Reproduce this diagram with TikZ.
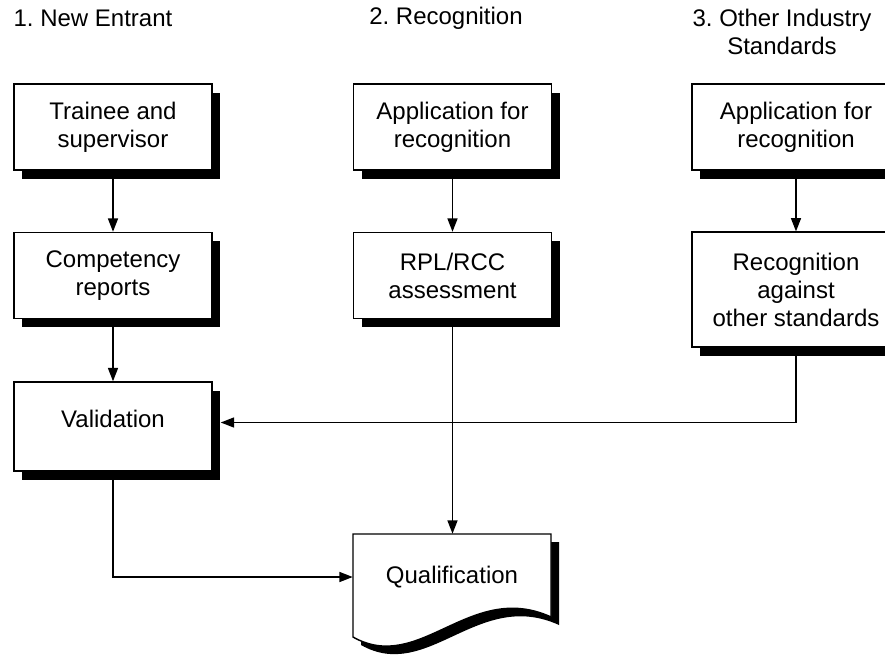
\documentclass[tikz,border=0pt]{standalone}
\usepackage{fontspec}
\setmainfont{Liberation Sans}
\frenchspacing
\usetikzlibrary{arrows.meta,shadows}
\tikzset{
  box/.style={draw, line width=1.1pt, fill=white, align=center, font=\fontsize{18}{21}\selectfont,
    minimum width=148.5pt, minimum height=64.5pt, inner sep=2pt,
    drop shadow={shadow xshift=6pt, shadow yshift=-6.5pt, fill=black, opacity=1}},
  title/.style={align=center, font=\fontsize{18}{21}\selectfont},
  flow/.style={line width=1.1pt, -{Triangle[length=10pt,width=7.5pt]}}
}
\begin{document}
\begin{tikzpicture}[x=0.75pt, y=-0.75pt]
	  \clip (0,0) rectangle (885,657);
	  \fill[white] (0,0) rectangle (885,657);
	  % column titles
	  \node[title] (t1) at (93,18) {1. New Entrant};
	  \node[title] (t2) at (446,18) {2. Recognition};
	  \node[title] (t3) at (782,32) {3. Other Industry\\Standards};
	  % boxes
	  \node[box] (trainee) at (113,127) {Trainee and\\supervisor};
	  \node[box] (comp) at (113,275.5) {Competency\\reports};
	  \node[box, minimum height=66.75pt, text depth=12pt] (val) at (113,426.5) {Validation};
	  \node[box] (app2) at (452.5,127) {Application for\\recognition};
	  \node[box] (rpl) at (452.5,275.5) {RPL/RCC\\assessment};
	  \node[box, minimum width=156pt] (app3) at (796,127) {Application for\\recognition};
	  \node[box, minimum width=156pt, minimum height=86pt] (rec) at (796,289.5) {Recognition\\against\\other standards};
	  % document shape
	  \fill[black] (361,542) -- (559,542) -- (559,625) .. controls (478,588) and (428,683) .. (361,645) -- cycle;
	  \filldraw[line width=1.1pt, fill=white] (353,534) -- (551,534) -- (551,617) .. controls (470,580) and (420,675) .. (353,637) -- cycle;
	  \node[title, minimum width=148.5pt, minimum height=64.5pt] (qual) at (452,577) {Qualification};
	  % connectors
	  \draw[flow] (trainee) -- (comp);
	  \draw[flow] (comp) -- (val);
	  \draw[flow] (app2) -- (rpl);
	  \draw[flow] (app3) -- (rec);
	  \draw[flow] (rpl.south) -- (rpl.south |- qual.north);
	  \draw[flow, shorten >=6pt] (rec.south) |- ([yshift=3pt]val.east);
	  \draw[flow] (val.south) |- (qual.west);
	\end{tikzpicture}
\end{document}
